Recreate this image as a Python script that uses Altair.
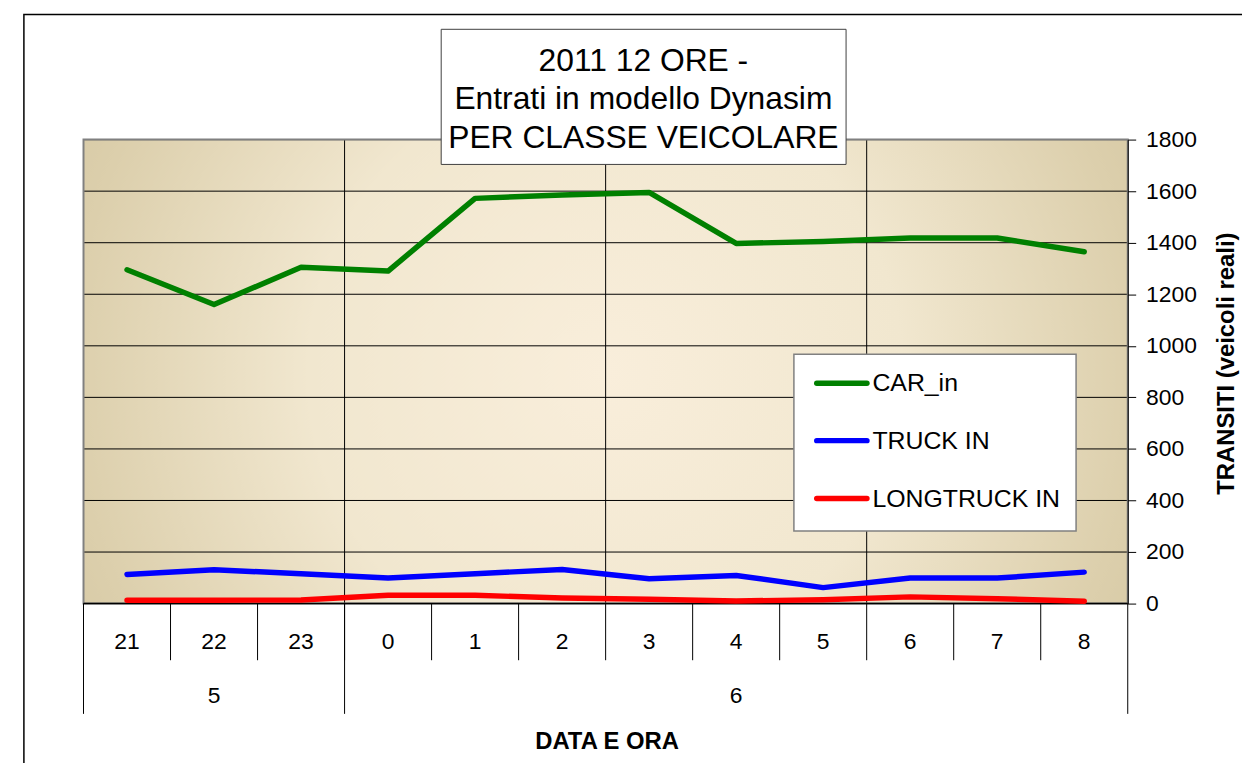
import altair as alt
import pandas as pd

# ---------------- data ----------------
hours = ["21", "22", "23", "0", "1", "2", "3", "4", "5", "6", "7", "8"]
day_of_hour = ["5", "5", "5", "6", "6", "6", "6", "6", "6", "6", "6", "6"]
car_in = [1295, 1160, 1305, 1290, 1572, 1585, 1595, 1397, 1405, 1418, 1418, 1365]
truck_in = [113, 131, 116, 99, 116, 132, 96, 109, 62, 99, 99, 122]
longtruck_in = [13, 13, 14, 32, 32, 22, 17, 10, 15, 26, 19, 9]
series_names = ["CAR_in", "TRUCK IN", "LONGTRUCK IN"]
series_colors = ["#008000", "#0000FF", "#FF0000"]
y_ticks = [0, 200, 400, 600, 800, 1000, 1200, 1400, 1600, 1800]
vgrid_hours = ["0", "3", "6"]
title_lines = ["2011 12 ORE -", "Entrati in modello Dynasim", "PER CLASSE VEICOLARE"]
x_title = "DATA E ORA"
y_title = "TRANSITI (veicoli reali)"

# ---------------- tables ----------------
rows = []
for s, vals in zip(series_names, [car_in, truck_in, longtruck_in]):
    for i, (h, v) in enumerate(zip(hours, vals)):
        rows.append({"series": s, "hour": h, "idx": i, "value": v})
long_df = pd.DataFrame(rows)
hour_df = pd.DataFrame({"hour": hours, "day": day_of_hour})
day_names = list(dict.fromkeys(day_of_hour))
day_first = [hours[day_of_hour.index(d)] for d in day_names]
day_mid = []
for d in day_names:
    hs = [h for h, dd in zip(hours, day_of_hour) if dd == d]
    day_mid.append(hs[len(hs) // 2])
dayfirst_df = pd.DataFrame({"hour": day_first})
daymid_df = pd.DataFrame({"hour": day_mid, "day": day_names})
ytick_df = pd.DataFrame({"value": y_ticks})
vgrid_df = pd.DataFrame({"hour": vgrid_hours})
legend_df = pd.DataFrame({"series": series_names})
one = pd.DataFrame({"k": [0]})

# ---------------- geometry ----------------
W, H = 1051, 467
FONT = "Liberation Sans"

xscale = alt.Scale(type="band", domain=hours, paddingInner=0, paddingOuter=0)
x_center = alt.X("hour:N", scale=xscale, axis=None, bandPosition=0.5)
x_start = alt.X("hour:N", scale=xscale, axis=None, bandPosition=0)
y_enc = alt.Y(
    "value:Q",
    scale=alt.Scale(domain=[0, 1800], nice=False, zero=True),
    axis=alt.Axis(
        orient="right", values=y_ticks, format="d", grid=False, tickSize=8, tickColor="black",
        tickWidth=1, domainColor="black", domainWidth=1, labelFontSize=23,
        labelAlign="left", labelPadding=10, labelColor="black", labelFlush=False,
        labelOverlap=False, title=y_title, titleFontSize=24, titleFontWeight="bold",
        titleColor="black", titleAngle=270, titleX=99, titleY=225,
        titleAlign="center", titleBaseline="middle", zindex=1,
    ),
)
color_enc = alt.Color("series:N", scale=alt.Scale(domain=series_names, range=series_colors), legend=None)

layers = []

# outer frame
layers.append(alt.Chart(one).mark_rect(fillOpacity=0, stroke="black", strokeWidth=1.5).encode(
    x=alt.value(-60), x2=alt.value(W + 200), y=alt.value(-126), y2=alt.value(H + 300)))

# plot background gradient
grad = alt.RadialGradient(
    gradient="radial",
    stops=[
        alt.GradientStop(offset=0, color="#f9eedb"),
        alt.GradientStop(offset=0.4, color="#f1e7cf"),
        alt.GradientStop(offset=0.72, color="#dccfac"),
        alt.GradientStop(offset=1, color="#ccbe97"),
    ],
    x1=0.5, y1=0.5, x2=0.5, y2=0.5, r1=0, r2=0.71,
)
layers.append(alt.Chart(one).mark_rect(fill=grad).encode(
    x=alt.value(0), x2=alt.value(W), y=alt.value(0), y2=alt.value(H)))

# gridlines
layers.append(alt.Chart(ytick_df).mark_rule(color="black", strokeWidth=1).encode(y=y_enc))
layers.append(alt.Chart(vgrid_df).mark_rule(color="black", strokeWidth=1).encode(x=x_start))

# plot border
layers.append(alt.Chart(one).mark_rect(fillOpacity=0, stroke="#808080", strokeWidth=2).encode(
    x=alt.value(0), x2=alt.value(W), y=alt.value(0), y2=alt.value(H)))
layers.append(alt.Chart(one).mark_rule(color="black", strokeWidth=1.5).encode(
    x=alt.value(0), x2=alt.value(W), y=alt.value(H)))

# data lines
layers.append(alt.Chart(long_df).mark_line(strokeWidth=5.5, strokeCap="round", strokeJoin="round").encode(
    x=x_center, y=y_enc, color=color_enc, order=alt.Order("idx:Q")))

# x axis: hour separators, day separators, labels
layers.append(alt.Chart(hour_df).mark_rule(color="black", strokeWidth=1).encode(
    x=x_start, y=alt.value(H), y2=alt.value(H + 57)))
layers.append(alt.Chart(dayfirst_df).mark_rule(color="black", strokeWidth=1).encode(
    x=x_start, y=alt.value(H), y2=alt.value(H + 111)))
layers.append(alt.Chart(one).mark_rule(color="black", strokeWidth=1).encode(
    x=alt.value(W), y=alt.value(H), y2=alt.value(H + 111)))
layers.append(alt.Chart(hour_df).mark_text(fontSize=23, color="black", baseline="alphabetic", align="center").encode(
    x=x_center, y=alt.value(H + 46), text="hour:N"))
layers.append(alt.Chart(daymid_df).mark_text(fontSize=23, color="black", baseline="alphabetic", align="center").encode(
    x=x_center, y=alt.value(H + 100), text="day:N"))
layers.append(alt.Chart(one).mark_text(text=x_title, fontSize=24, fontWeight="bold", color="black",
                                       baseline="alphabetic", align="center").encode(
    x=alt.value(W / 2 + 1.5), y=alt.value(H + 146.5)))

# title box
layers.append(alt.Chart(one).mark_rect(fill="white", stroke="#404040", strokeWidth=1).encode(
    x=alt.value(360), x2=alt.value(767.5), y=alt.value(-111), y2=alt.value(25)))
layers.append(alt.Chart(one).mark_text(text=title_lines, fontSize=32, lineHeight=38.5, color="black",
                                       baseline="alphabetic", align="center").encode(
    x=alt.value(563.5), y=alt.value(-69)))

# legend
layers.append(alt.Chart(one).mark_rect(fill="white", stroke="#808080", strokeWidth=1.5).encode(
    x=alt.value(715), x2=alt.value(999), y=alt.value(216), y2=alt.value(394)))
leg_y = [245.3, 303, 361.3]
for name, ly in zip(series_names, leg_y):
    base = alt.Chart(legend_df).transform_filter(alt.datum.series == name)
    layers.append(base.mark_rule(strokeWidth=5.5, strokeCap="round").encode(
        x=alt.value(738), x2=alt.value(788.5), y=alt.value(ly), color=color_enc))
    layers.append(base.mark_text(fontSize=25, color="black", align="left", baseline="middle").encode(
        x=alt.value(794), y=alt.value(ly), text="series:N"))

chart = alt.layer(*layers).properties(
    width=W, height=H,
    padding={"left": 76, "top": 130, "right": 115, "bottom": 158},
    autosize=alt.AutoSizeParams(type="none"),
).configure(font=FONT).configure_view(strokeWidth=0)

chart.save("out.html", embed_options={"renderer": "svg", "actions": False})
